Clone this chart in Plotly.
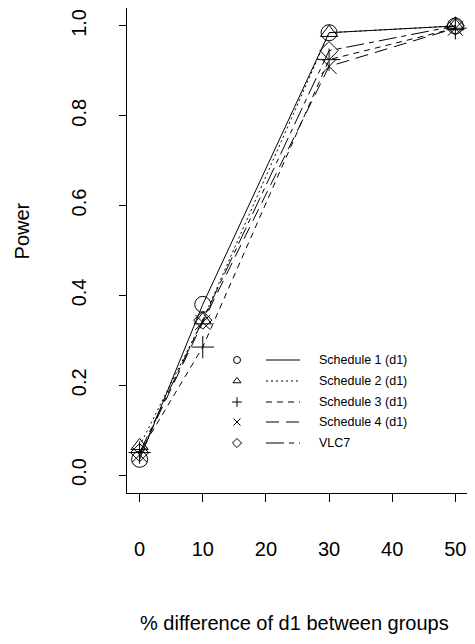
import plotly.graph_objects as go

# ---- data ----
pct_diff = [0, 10, 30, 50]
schedule1 = [0.035, 0.38, 0.985, 1.0]
schedule2 = [0.065, 0.345, 0.985, 1.0]
schedule3 = [0.05, 0.285, 0.925, 0.995]
schedule4 = [0.045, 0.34, 0.91, 0.995]
vlc7 = [0.05, 0.345, 0.945, 1.0]

names = ["Schedule 1 (d1)", "Schedule 2 (d1)", "Schedule 3 (d1)", "Schedule 4 (d1)", "VLC7"]
series = [schedule1, schedule2, schedule3, schedule4, vlc7]
symbols = ["circle-open", "triangle-up-open", "cross-thin-open", "x-thin-open", "diamond-open"]
dashes = ["solid", "2px,3px", "6px,5px", "13px,7px", "18px,5px,5px,5px"]
msizes = [16, 15, 16, 15, 14]

FONT = "Liberation Sans, Arial, sans-serif"

fig = go.Figure()
for name, ys, sym, dash, ms in zip(names, series, symbols, dashes, msizes):
    fig.add_trace(go.Scatter(
        x=pct_diff, y=ys, mode="lines+markers", name=name,
        line=dict(color="black", width=1, dash=dash),
        marker=dict(symbol=sym, size=ms, color="black",
                    line=dict(color="black", width=1)),
        showlegend=False,
    ))

# ---- hand-drawn legend on an overlay axis in (page) pixel units ----
leg_rows = [360, 381, 402, 422, 443]
for name, sym, dash, row in zip(names, symbols, dashes, leg_rows):
    fig.add_trace(go.Scatter(
        x=[237], y=[row], mode="markers", xaxis="x2", yaxis="y2",
        marker=dict(symbol=sym, size=7, color="black", line=dict(color="black", width=1)),
        showlegend=False, hoverinfo="skip"))
    fig.add_trace(go.Scatter(
        x=[266, 300], y=[row, row], mode="lines", xaxis="x2", yaxis="y2",
        line=dict(color="black", width=1, dash=dash),
        showlegend=False, hoverinfo="skip"))
    fig.add_annotation(x=317, y=row, xref="x2", yref="y2", text=name,
                       showarrow=False, xanchor="left", yanchor="middle",
                       font=dict(family=FONT, size=12.5, color="black"))

# page body has an 8px margin, so the figure is offset by 8px
fig.update_layout(
    width=467, height=636,
    margin=dict(l=119, r=7, t=0, b=151),
    paper_bgcolor="white", plot_bgcolor="white",
    font=dict(family=FONT, color="black"),
    xaxis=dict(range=[-2, 52], tickvals=[0, 10, 20, 30, 40, 50],
               ticks="outside", ticklen=8, tickcolor="black",
               showline=True, linecolor="black", linewidth=1, mirror=True,
               showgrid=False, zeroline=False,
               tickfont=dict(family=FONT, size=20, color="black"),
               ticklabelstandoff=30, automargin=False),
    yaxis=dict(range=[-0.04, 1.04], tickvals=[0, 0.2, 0.4, 0.6, 0.8, 1.0],
               ticktext=["0.0", "0.2", "0.4", "0.6", "0.8", "1.0"],
               ticks="outside", ticklen=7, tickcolor="black", tickangle=-90,
               showline=True, linecolor="black", linewidth=1, mirror=True,
               showgrid=False, zeroline=False,
               tickfont=dict(family=FONT, size=20, color="black"),
               ticklabelstandoff=25, automargin=False),
    xaxis2=dict(range=[127, 468], overlaying="x", visible=False, fixedrange=True),
    yaxis2=dict(range=[493, 8], overlaying="y", visible=False, fixedrange=True),
)

fig.add_annotation(text="% difference of d1 between groups", xref="paper", yref="paper",
                   x=0.49, y=-0.268, showarrow=False, xanchor="center", yanchor="middle",
                   font=dict(family=FONT, size=20, color="black"))
fig.add_annotation(text="Power", xref="paper", yref="paper",
                   x=-0.307, y=0.54, showarrow=False, textangle=-90,
                   xanchor="center", yanchor="middle",
                   font=dict(family=FONT, size=20, color="black"))

fig.write_html("out.html")
